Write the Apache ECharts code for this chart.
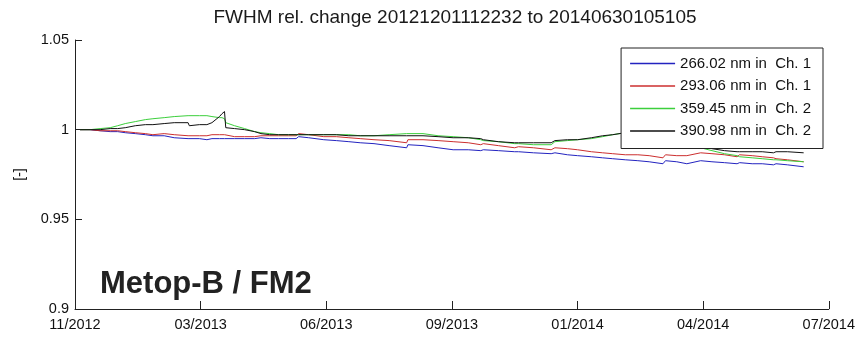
<!DOCTYPE html>
<html>
<head>
<meta charset="utf-8">
<script src="https://cdn.jsdelivr.net/npm/echarts@6/dist/echarts.min.js"></script>
<style>html,body{margin:0;padding:0;background:#fff}#c{width:858px;height:337px}</style>
</head>
<body>
<div id="c"></div>
<script>
// Days since 2012-12-01 (first measurement)
const days = [0,8,16,24,30,36,44,52,58,59,67,75,86,87,95,101,105,111,113,115,116,123,131,139,144,151,158,166,172,174,182,194,204,214,223,234,246,260,261,273,285,297,309,319,321,333,346,349,361,375,378,388,396,407,416,424,434,444,453,464,466,475,483,494,503,513,523,525,535,543,552,554,563,576];
// Axis starts 4 days before first measurement (2012-11-27); ticks every 100 days
const axisStartOffset = 4;
const xTickLabels = ['11/2012','03/2013','06/2013','09/2013','01/2014','04/2014','07/2014'];
const seriesNames = ['266.02 nm in  Ch. 1','293.06 nm in  Ch. 1','359.45 nm in  Ch. 2','390.98 nm in  Ch. 2'];
const blue266 = [1.0000,1.0000,0.9994,0.9989,0.9989,0.9983,0.9978,0.9972,0.9966,0.9972,0.9966,0.9955,0.9950,0.9961,0.9950,0.9944,0.9950,0.9950,0.9950,0.9950,0.9950,0.9950,0.9950,0.9950,0.9955,0.9950,0.9950,0.9950,0.9950,0.9961,0.9955,0.9944,0.9939,0.9933,0.9927,0.9922,0.9911,0.9899,0.9916,0.9911,0.9899,0.9888,0.9888,0.9883,0.9888,0.9883,0.9877,0.9877,0.9871,0.9866,0.9871,0.9860,0.9855,0.9849,0.9843,0.9838,0.9832,0.9827,0.9821,0.9810,0.9827,0.9821,0.9810,0.9827,0.9821,0.9816,0.9810,0.9816,0.9810,0.9810,0.9804,0.9810,0.9804,0.9793];
const red293 = [1.0000,1.0000,0.9994,0.9994,0.9994,0.9989,0.9983,0.9978,0.9972,0.9983,0.9978,0.9972,0.9966,0.9972,0.9966,0.9966,0.9972,0.9972,0.9972,0.9972,0.9966,0.9961,0.9961,0.9961,0.9966,0.9966,0.9966,0.9966,0.9966,0.9978,0.9972,0.9961,0.9961,0.9955,0.9950,0.9944,0.9939,0.9927,0.9944,0.9944,0.9939,0.9933,0.9927,0.9916,0.9922,0.9911,0.9899,0.9905,0.9899,0.9888,0.9899,0.9894,0.9888,0.9877,0.9871,0.9866,0.9860,0.9860,0.9855,0.9843,0.9860,0.9855,0.9855,0.9871,0.9866,0.9860,0.9849,0.9860,0.9855,0.9849,0.9843,0.9838,0.9832,0.9821];
const green359 = [1.0000,1.0000,1.0006,1.0011,1.0022,1.0034,1.0045,1.0056,1.0061,1.0061,1.0067,1.0073,1.0078,1.0078,1.0078,1.0078,1.0073,1.0067,1.0067,1.0061,1.0039,1.0022,1.0006,0.9989,0.9983,0.9978,0.9972,0.9972,0.9972,0.9972,0.9972,0.9972,0.9972,0.9972,0.9966,0.9966,0.9972,0.9978,0.9978,0.9978,0.9966,0.9961,0.9955,0.9944,0.9939,0.9933,0.9922,0.9922,0.9916,0.9916,0.9933,0.9939,0.9944,0.9950,0.9961,0.9972,0.9983,0.9989,0.9989,0.9966,0.9961,0.9939,0.9916,0.9899,0.9883,0.9866,0.9855,0.9849,0.9843,0.9838,0.9832,0.9832,0.9827,0.9821];
const black390 = [1.0000,1.0000,1.0000,1.0006,1.0006,1.0011,1.0022,1.0028,1.0028,1.0028,1.0034,1.0039,1.0039,1.0022,1.0028,1.0028,1.0039,1.0073,1.0089,1.0101,1.0011,1.0006,1.0000,0.9989,0.9978,0.9972,0.9972,0.9972,0.9972,0.9972,0.9972,0.9972,0.9972,0.9966,0.9966,0.9966,0.9966,0.9966,0.9972,0.9966,0.9961,0.9955,0.9955,0.9950,0.9944,0.9933,0.9927,0.9927,0.9927,0.9927,0.9939,0.9944,0.9944,0.9955,0.9966,0.9972,0.9983,0.9978,0.9966,0.9950,0.9944,0.9933,0.9916,0.9905,0.9894,0.9883,0.9877,0.9877,0.9877,0.9877,0.9871,0.9877,0.9877,0.9871];
const yTicks = {min:0.9, max:1.05, step:0.05};
const colors = ['#2323c0','#cc2f2f','#3ccf3c','#111111'];
const values = [blue266, red293, green359, black390];

const chart = echarts.init(document.getElementById('c'), null, {renderer:'canvas'});
const FONT = 'Liberation Sans, Arial, sans-serif';
chart.setOption({
  animation:false,
  backgroundColor:'#fff',
  color: colors,
  title:[
    {text:'FWHM rel. change 20121201112232 to 20140630105105', left:450, textAlign:'center', top:3,
     textStyle:{fontFamily:FONT,fontSize:19,fontWeight:'normal',color:'#1a1a1a'}},
    {text:'Metop-B / FM2', left:95, top:264,
     textStyle:{fontFamily:FONT,fontSize:31,fontWeight:'bold',color:'#222'}}
  ],
  legend:{
    orient:'vertical', right:35, top:48,
    data:seriesNames, icon:'rect',
    backgroundColor:'#fff', borderColor:'#222', borderWidth:1,
    padding:[7,12,9,9], itemGap:5.5, itemWidth:45, itemHeight:1.4,
    textStyle:{fontFamily:FONT,fontSize:15,color:'#111',lineHeight:17}
  },
  grid:{left:75, right:27, top:40, bottom:28, containLabel:false},
  xAxis:{
    type:'value', min:0, max:600, interval:100,
    axisLine:{show:true,lineStyle:{color:'#222',width:1}},
    axisTick:{show:true,inside:true,length:8,lineStyle:{color:'#222'}},
    splitLine:{show:false},
    axisLabel:{fontFamily:FONT,fontSize:14.5,color:'#111',margin:8,
      formatter:(v)=>xTickLabels[Math.round(v/100)]||''}
  },
  yAxis:{
    type:'value', min:yTicks.min, max:yTicks.max, interval:yTicks.step,
    name:'[-]', nameLocation:'middle', nameGap:48, nameRotate:90,
    nameTextStyle:{fontFamily:FONT,fontSize:14,color:'#111'},
    axisLine:{show:true,lineStyle:{color:'#222',width:1}},
    axisTick:{show:true,inside:true,length:7,lineStyle:{color:'#222'}},
    splitLine:{show:false},
    axisLabel:{fontFamily:FONT,fontSize:14.5,color:'#111',margin:6,
      formatter:(v)=>String(+v.toFixed(2))}
  },
  series: seriesNames.map((n,i)=>({
    name:n, type:'line', symbol:'none', smooth:false,
    lineStyle:{width:1,color:colors[i]}, itemStyle:{color:colors[i]},
    data: days.map((d,j)=>[d+axisStartOffset, values[i][j]])
  }))
});
</script>
</body>
</html>
